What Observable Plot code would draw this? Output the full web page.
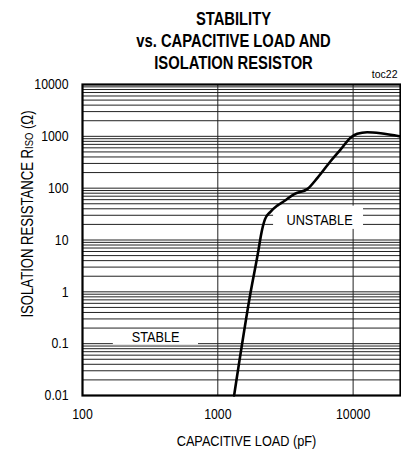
<!DOCTYPE html>
<html>
<head>
<meta charset="utf-8">
<script src="https://cdn.jsdelivr.net/npm/d3@7"></script>
<script src="https://cdn.jsdelivr.net/npm/@observablehq/plot@0.6"></script>
<style>
  html, body { margin: 0; padding: 0; background: #fff; }
</style>
</head>
<body>
<div id="chart"></div>
<script>
// ---- data ----
const titleText = "STABILITY\nvs. CAPACITIVE LOAD AND\nISOLATION RESISTOR";
const xLabel = "CAPACITIVE LOAD (pF)";
const yLabel = "ISOLATION RESISTANCE RISO (Ω)";
const tocLabel = "toc22";

const xTicks = [100, 1000, 10000];
const yTicks = [0.01, 0.1, 1, 10, 100, 1000, 10000];
const xDomain = [100, 22400];
const yDomain = [0.01, 10000];

// boundary curve: capacitive load (pF) vs isolation resistance (Ω)
const loadPF = [1320, 1750, 2000, 2080, 2230, 2450, 2750, 3080, 3670, 4610, 5470, 6810, 8070, 9570, 10720, 12700, 15960, 22400];
const risoOhm = [0.01, 1.0, 6.5, 12, 25, 35, 46, 56, 77, 97, 160, 330, 552, 937, 1119, 1200, 1149, 993];

// region annotations
const regionNames = ["STABLE", "UNSTABLE"];
const regionX = [347, 5650];
const regionY = [0.132, 24.5];
const regionX1 = [169, 2583];
const regionX2 = [720, 11940];
const regionY1 = [0.095, 16];
const regionY2 = [0.187, 45];

// ---- build tables ----
const curve = loadPF.map((x, i) => ({x, y: risoOhm[i]}));
const regions = regionNames.map((name, i) => ({
  name, x: regionX[i], y: regionY[i],
  x1: regionX1[i], x2: regionX2[i], y1: regionY1[i], y2: regionY2[i]
}));
const gridY = [];
for (let e = -2; e <= 4; e++) {
  for (let m = 1; m <= 9; m++) {
    const v = +(m * Math.pow(10, e)).toPrecision(3);
    if (v >= yDomain[0] && v <= yDomain[1]) gridY.push(v);
  }
}

const FONT = "'Liberation Sans', Arial, Helvetica, sans-serif";
const NARROW = 0.82; // condensed look of the original typeface

const svg = Plot.plot({
  width: 401,
  height: 450,
  marginTop: 84,
  marginBottom: 55,
  marginLeft: 82,
  marginRight: 1,
  style: {fontFamily: FONT, fontSize: "15px", color: "#000", background: "#fff"},
  x: {type: "log", domain: xDomain},
  y: {type: "log", domain: yDomain},
  marks: [
    Plot.ruleY(gridY, {stroke: "#222", strokeWidth: 1}),
    Plot.ruleX(xTicks.filter(d => d > xDomain[0]), {stroke: "#222", strokeWidth: 1}),
    Plot.rect(regions, {x1: "x1", x2: "x2", y1: "y1", y2: "y2", fill: "#fff"}),
    Plot.line(curve, {x: "x", y: "y", stroke: "#000", strokeWidth: 2.6, curve: "monotone-x"}),
    Plot.text(regions, {x: "x", y: "y", text: "name", fontSize: 15.5, fill: "#000"}),
    Plot.frame({stroke: "#000", strokeWidth: 2.2}),
    Plot.axisX(xTicks, {tickSize: 0, tickPadding: 13, tickFormat: d => String(d), label: null, fontSize: 15}),
    Plot.axisY(yTicks, {tickSize: 0, tickPadding: 14, tickFormat: d => String(d), label: null, fontSize: 15}),
    Plot.text([titleText], {frameAnchor: "top", lineAnchor: "top", dy: -75, dx: -8, fontWeight: "bold", fontSize: 18, lineHeight: 1.22}),
    Plot.text([tocLabel], {frameAnchor: "top-right", textAnchor: "end", lineAnchor: "bottom", dx: -3, dy: -7, fontSize: 10.5, className: "toc"}),
    Plot.text([xLabel], {frameAnchor: "bottom", lineAnchor: "bottom", dx: 5, dy: 50, fontSize: 15.5}),
    Plot.text([yLabel], {frameAnchor: "left", textAnchor: "middle", rotate: -90, lineAnchor: "bottom", dx: -50, dy: -26, fontSize: 16, className: "ylab"})
  ]
});

// subscript "ISO" in the y label
const t = d3.select(svg).select("g.ylab text");
if (!t.empty()) {
  t.text("ISOLATION RESISTANCE R");
  t.append("tspan").attr("font-size", "0.72em").text("ISO");
  t.append("tspan").text(" (Ω)");
}

document.getElementById("chart").appendChild(svg);

// condense glyphs horizontally (original uses a narrow sans)
svg.querySelectorAll("text").forEach(el => {
  if (el.closest("g.toc")) return;
  const spans = Array.from(el.children).filter(c => c.tagName === "tspan");
  const multi = spans.length > 1 && spans.every(s => s.hasAttribute("x"));
  if (multi) {
    spans.forEach(s => {
      const len = s.getComputedTextLength();
      if (len > 0) {
        s.setAttribute("textLength", (len * NARROW).toFixed(2));
        s.setAttribute("lengthAdjust", "spacingAndGlyphs");
      }
    });
  } else {
    const len = el.getComputedTextLength();
    if (len > 0) {
      el.setAttribute("textLength", (len * NARROW).toFixed(2));
      el.setAttribute("lengthAdjust", "spacingAndGlyphs");
    }
  }
});
</script>
</body>
</html>
